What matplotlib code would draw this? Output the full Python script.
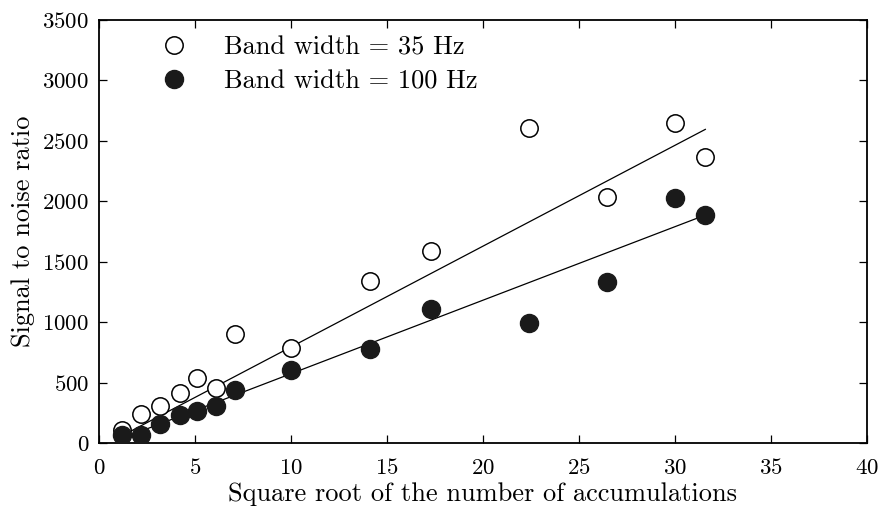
import matplotlib
matplotlib.use("Agg")
import matplotlib.pyplot as plt
import numpy as np

plt.rcParams["font.family"] = "cmr10"
plt.rcParams["axes.formatter.use_mathtext"] = True
plt.rcParams["mathtext.fontset"] = "cm"

# Square root of the number of accumulations
sqrt_acc = [1.2, 2.2, 3.2, 4.2, 5.1, 6.1, 7.1, 10.0, 14.1, 17.3, 22.4, 26.5, 30.0, 31.6]

# Signal to noise ratio for each band width
snr_35hz = [110, 240, 306, 414, 538, 455, 902, 783, 1340, 1588, 2605, 2035, 2647, 2366]
snr_100hz = [66, 66, 157, 232, 265, 306, 438, 604, 778, 1108, 993, 1332, 2026, 1886]

# Straight-line trends (end points)
trend_x = [1.2, 31.6]
trend_35hz = [60, 2595]
trend_100hz = [38, 1886]

fig = plt.figure(figsize=(8.8, 5.09), dpi=100)
ax = fig.add_axes([99 / 880, 1 - 443 / 509, (866.5 - 99) / 880, (443 - 20) / 509])

ax.plot(trend_x, trend_35hz, color="black", lw=0.9, zorder=2)
ax.plot(trend_x, trend_100hz, color="black", lw=0.9, zorder=2)

ax.plot(sqrt_acc, snr_35hz, linestyle="none", marker="o", markersize=12.5,
        markerfacecolor="white", markeredgecolor="black", markeredgewidth=1.1,
        label="Band width = 35 Hz", zorder=3)
ax.plot(sqrt_acc, snr_100hz, linestyle="none", marker="o", markersize=13,
        markerfacecolor="#1a1a1a", markeredgecolor="#1a1a1a", markeredgewidth=1.0,
        label="Band width = 100 Hz", zorder=3)

ax.set_xlim(0, 40)
ax.set_ylim(0, 3500)
ax.set_xticks(np.arange(0, 41, 5))
ax.set_yticks(np.arange(0, 3501, 500))
ax.tick_params(direction="in", top=True, right=True, length=6, width=0.9,
               labelsize=16.5)
ax.tick_params(axis="x", pad=11)
ax.tick_params(axis="y", pad=7)
for s in ax.spines.values():
    s.set_linewidth(1.3)

ax.set_xlabel("Square root of the number of accumulations", fontsize=19, labelpad=3)
ax.set_ylabel("Signal to noise ratio", fontsize=19, labelpad=5)

ax.legend(loc="upper left", bbox_to_anchor=(0.06, 1.0), frameon=False,
          fontsize=19, handlelength=1.0, handletextpad=1.4, labelspacing=0.38,
          borderaxespad=0.2)

fig.savefig("out.png", dpi=100)
